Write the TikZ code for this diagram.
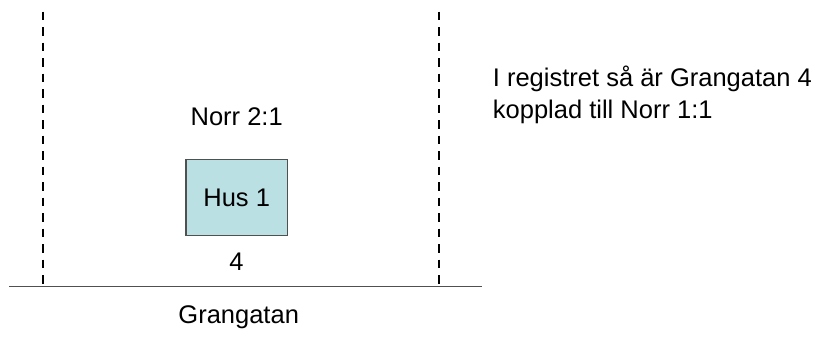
\documentclass[tikz,border=0pt]{standalone}
\usepackage{fontspec}
\setmainfont{Liberation Sans}
\definecolor{husfill}{HTML}{BAE0E3}
\definecolor{linegray}{HTML}{505050}
\begin{document}
\begin{tikzpicture}[x=1pt,y=-1pt,
  lbl/.style={inner sep=0pt, anchor=base, font=\fontsize{25.5}{31}\selectfont, text=black},
  husbox/.style={draw=linegray, line width=1.3pt, fill=husfill, minimum width=101.5pt, minimum height=76.3pt, inner sep=0pt, font=\fontsize{25.5}{31}\selectfont},
  border/.style={draw=black, line width=2pt, dash pattern=on 8.7pt off 6.8pt},
  street/.style={draw=linegray, line width=1.5pt}]
\useasboundingbox (0,0) rectangle (832,338);
% boundaries
\coordinate (bl1) at (42.7,11.7);
\coordinate (bl2) at (42.7,288);
\coordinate (br1) at (439.3,11.7);
\coordinate (br2) at (439.3,288);
\coordinate (s1) at (9.3,286.5);
\coordinate (s2) at (481.7,286.5);
\draw[border] (bl1) -- (bl2);
\draw[border] (br1) -- (br2);
\draw[street] (s1) -- (s2);
% labels
\node[lbl] (norr) at (236.7,125) {Norr 2:1};
\node[husbox] (hus) at (236.7,197.5) {Hus 1};
\node[lbl] (num) at (236.5,270) {4};
\node[lbl] (gata) at (238.7,323.3) {Grangatan};
\node[lbl, anchor=base west] (note1) at (492.7,86.7) {I registret så är Grangatan 4};
\node[lbl, anchor=base west] (note2) at (492.7,118.3) {kopplad till Norr 1:1};
\end{tikzpicture}
\end{document}
